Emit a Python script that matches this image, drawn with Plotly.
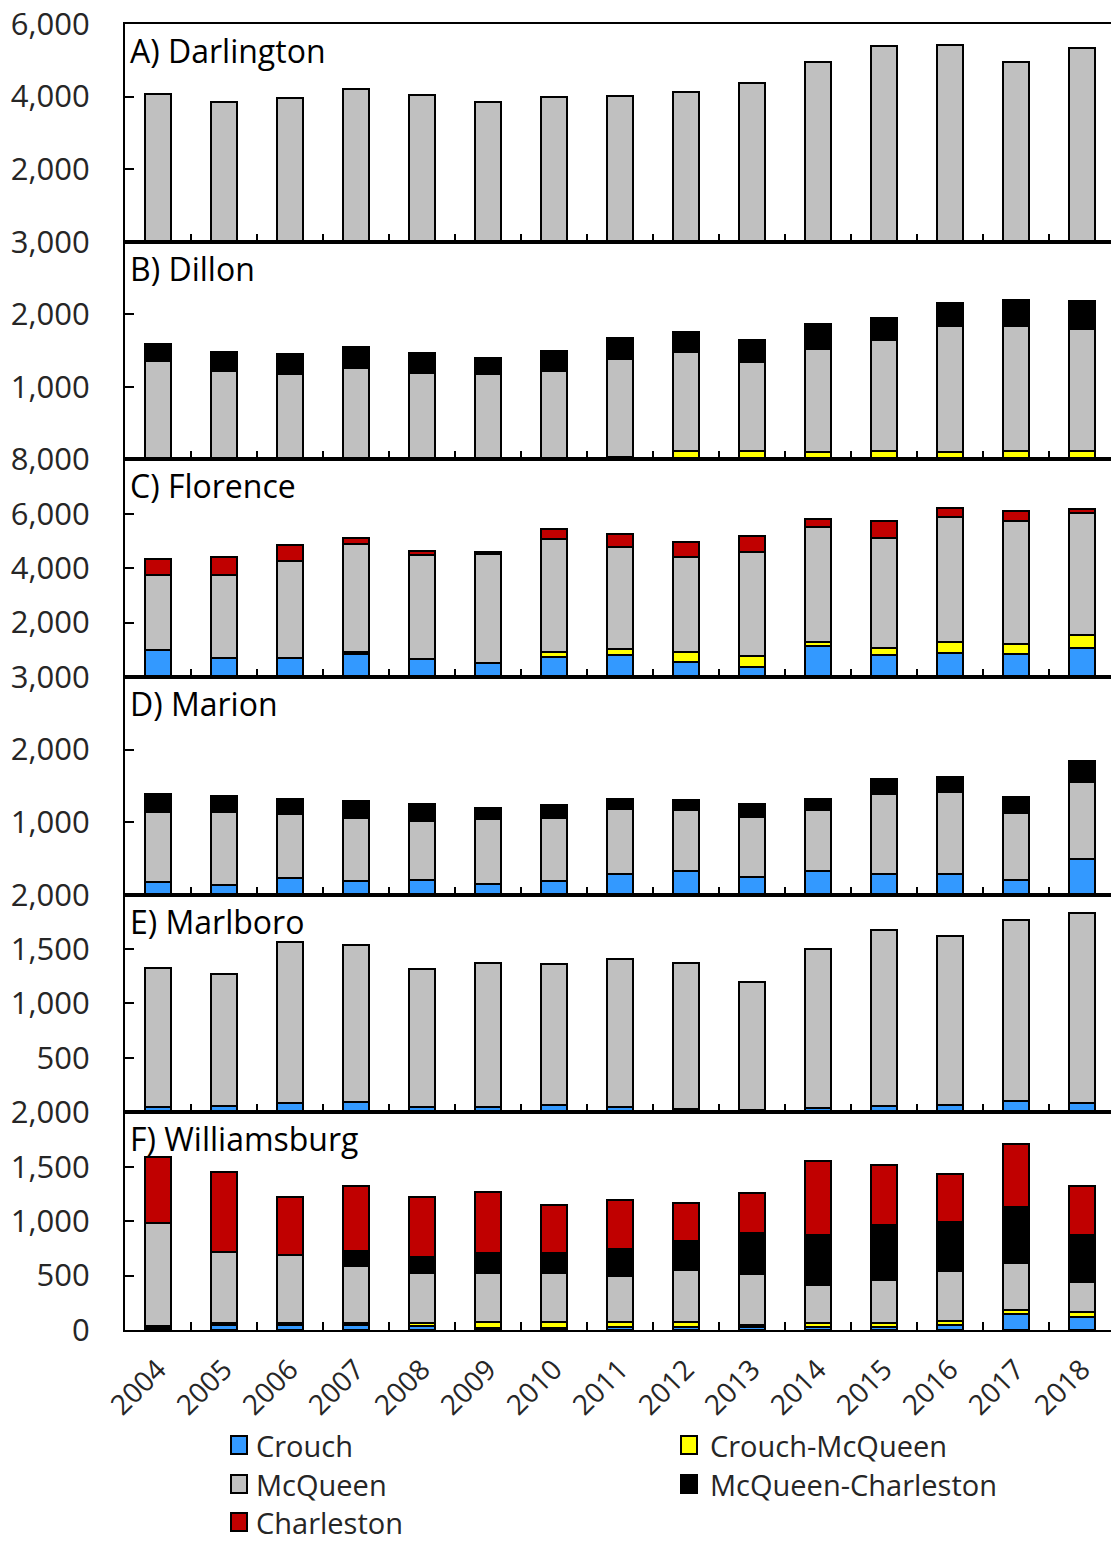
import plotly.graph_objects as go
from plotly.subplots import make_subplots

years = [str(y) for y in range(2004, 2019)]

series_names = ["Crouch", "Crouch-McQueen", "McQueen", "McQueen-Charleston", "Charleston"]
series_colors = ["#3399FF", "#FFFF00", "#C0C0C0", "#000000", "#C00000"]

# ---- A) Darlington ----
darlington_crouch = [0, 0, 0, 0, 20, 0, 20, 20, 20, 0, 0, 25, 0, 0, 0]
darlington_crouch_mcqueen = [0] * 15
darlington_mcqueen = [4080, 3850, 3950, 4220, 4020, 3840, 3960, 3990, 4100, 4380, 4950, 5355, 5425, 4950, 5340]
darlington_mcqueen_charleston = [0] * 15
darlington_charleston = [0] * 15

# ---- B) Dillon ----
dillon_crouch = [0] * 15
dillon_crouch_mcqueen = [0, 0, 0, 0, 0, 0, 0, 35, 119, 110, 100, 119, 100, 119, 119]
dillon_mcqueen = [1356, 1219, 1178, 1256, 1192, 1178, 1219, 1344, 1360, 1232, 1416, 1525, 1736, 1717, 1680]
dillon_mcqueen_charleston = [233, 265, 274, 288, 274, 219, 274, 288, 279, 306, 347, 301, 324, 360, 379]
dillon_charleston = [0] * 15

# ---- C) Florence ----
florence_crouch = [993, 713, 713, 850, 660, 520, 750, 800, 560, 385, 1127, 811, 884, 847, 1065]
florence_crouch_mcqueen = [0, 0, 0, 59, 0, 0, 159, 230, 360, 400, 168, 265, 389, 364, 484]
florence_mcqueen = [2763, 3043, 3563, 3975, 3824, 4000, 4156, 3745, 3491, 3797, 4218, 4051, 4603, 4509, 4473]
florence_mcqueen_charleston = [0] * 15
florence_charleston = [571, 644, 582, 207, 145, 60, 364, 472, 545, 603, 280, 593, 342, 364, 160]

# ---- D) Marion ----
marion_crouch = [171, 134, 226, 189, 199, 144, 185, 281, 322, 240, 322, 281, 281, 199, 486]
marion_crouch_mcqueen = [0] * 15
marion_mcqueen = [969, 1006, 881, 873, 822, 904, 877, 904, 849, 835, 849, 1109, 1137, 931, 1069]
marion_mcqueen_charleston = [250, 219, 215, 223, 232, 151, 178, 137, 137, 178, 151, 206, 205, 219, 287]
marion_charleston = [0] * 15

# ---- E) Marlboro ----
marlboro_crouch = [49, 55, 85, 94, 50, 50, 70, 50, 30, 20, 40, 60, 70, 100, 85]
marlboro_crouch_mcqueen = [0] * 15
marlboro_mcqueen = [1279, 1218, 1478, 1448, 1266, 1321, 1292, 1358, 1341, 1177, 1459, 1613, 1548, 1664, 1743]
marlboro_mcqueen_charleston = [0] * 15
marlboro_charleston = [0] * 15

# ---- F) Williamsburg ----
williamsburg_crouch = [15, 50, 50, 45, 40, 15, 15, 30, 30, 25, 25, 25, 45, 148, 120]
williamsburg_crouch_mcqueen = [20, 12, 12, 17, 22, 57, 57, 42, 42, 25, 37, 37, 42, 40, 43]
williamsburg_mcqueen = [945, 658, 628, 523, 463, 453, 453, 428, 477, 466, 355, 401, 459, 429, 276]
williamsburg_mcqueen_charleston = [0, 0, 0, 144, 149, 183, 183, 245, 272, 372, 459, 505, 447, 516, 437]
williamsburg_charleston = [614, 734, 528, 590, 544, 563, 443, 452, 346, 371, 673, 548, 440, 572, 447]

panels = [
    ("A) Darlington", [darlington_crouch, darlington_crouch_mcqueen, darlington_mcqueen,
                       darlington_mcqueen_charleston, darlington_charleston],
     6000, [2000, 4000, 6000]),
    ("B) Dillon", [dillon_crouch, dillon_crouch_mcqueen, dillon_mcqueen,
                   dillon_mcqueen_charleston, dillon_charleston],
     3000, [1000, 2000, 3000]),
    ("C) Florence", [florence_crouch, florence_crouch_mcqueen, florence_mcqueen,
                     florence_mcqueen_charleston, florence_charleston],
     8000, [2000, 4000, 6000, 8000]),
    ("D) Marion", [marion_crouch, marion_crouch_mcqueen, marion_mcqueen,
                   marion_mcqueen_charleston, marion_charleston],
     3000, [1000, 2000, 3000]),
    ("E) Marlboro", [marlboro_crouch, marlboro_crouch_mcqueen, marlboro_mcqueen,
                     marlboro_mcqueen_charleston, marlboro_charleston],
     2000, [500, 1000, 1500, 2000]),
    ("F) Williamsburg", [williamsburg_crouch, williamsburg_crouch_mcqueen, williamsburg_mcqueen,
                         williamsburg_mcqueen_charleston, williamsburg_charleston],
     2000, [0, 500, 1000, 1500, 2000]),
]

FONT = "Open Sans"
WIDTH, HEIGHT = 1111, 1543
MARGIN = dict(l=125, r=0, t=24, b=213)

fig = make_subplots(rows=6, cols=1, shared_xaxes=True, vertical_spacing=0)

for row, (title, series, ymax, yticks) in enumerate(panels, start=1):
    for name, color, values in zip(series_names, series_colors, series):
        fig.add_trace(
            go.Bar(
                x=years,
                y=[v if v else None for v in values],
                name=name,
                marker=dict(color=color, line=dict(color="black", width=2)),
                showlegend=False,
                legendgroup=name,
            ),
            row=row, col=1,
        )
    fig.update_yaxes(
        range=[0, ymax], tickvals=yticks, tickformat=",",
        ticks="inside", ticklen=9, tickwidth=2, tickcolor="black",
        showline=True, linewidth=2, linecolor="black",
        showgrid=False, zeroline=False, automargin=False,
        tickfont=dict(family=FONT, size=31, color="#262626"),
        ticklabelstandoff=27,
        row=row, col=1,
    )
    fig.update_xaxes(
        type="category", range=[-0.5, 14.44],
        tickson="boundaries", ticks="inside", ticklen=8, tickwidth=2, tickcolor="black",
        showline=True, linewidth=2, linecolor="black", mirror=True,
        showgrid=False, zeroline=False, automargin=False,
        showticklabels=(row == 6), tickangle=-45, ticklabelstandoff=10,
        tickfont=dict(family=FONT, size=28, color="#262626"),
        row=row, col=1,
    )
    axis_suffix = "" if row == 1 else str(row)
    fig.add_annotation(
        text=title, showarrow=False,
        xref=f"x{axis_suffix} domain", yref=f"y{axis_suffix} domain",
        x=0, y=1, xanchor="left", yanchor="top", xshift=3, yshift=-3,
        font=dict(family=FONT, size=32, color="black"),
    )

# Key below the panels: two columns, filled row by row, with square swatches.
plot_w = WIDTH - MARGIN["l"] - MARGIN["r"]
plot_h = HEIGHT - MARGIN["t"] - MARGIN["b"]
key_cols_px = [239, 689]          # swatch centres (px from left)
key_text_gap = [15, 19]           # swatch centre to text start, per column
key_rows_px = [1445, 1484, 1522]  # row centres (px from top)
for i, (name, color) in enumerate(zip(series_names, series_colors)):
    col, r = i % 2, i // 2
    cx = (key_cols_px[col] - MARGIN["l"]) / plot_w
    cy = (HEIGHT - MARGIN["b"] - key_rows_px[r]) / plot_h
    fig.add_shape(
        type="rect", xref="paper", yref="paper",
        xsizemode="pixel", ysizemode="pixel", xanchor=cx, yanchor=cy,
        x0=-8, x1=8, y0=-9, y1=9,
        fillcolor=color, line=dict(color="black", width=2),
    )
    fig.add_annotation(
        text=name, showarrow=False, xref="paper", yref="paper",
        x=cx, y=cy, xanchor="left", yanchor="middle", xshift=key_text_gap[col],
        font=dict(family=FONT, size=29, color="#262626"),
    )

fig.update_layout(
    width=WIDTH, height=HEIGHT,
    margin=dict(**MARGIN, autoexpand=False),
    barmode="stack", bargap=0.6,
    plot_bgcolor="white", paper_bgcolor="white",
    font=dict(family=FONT, color="#262626"),
    showlegend=False,
)

fig.write_html("out.html")
